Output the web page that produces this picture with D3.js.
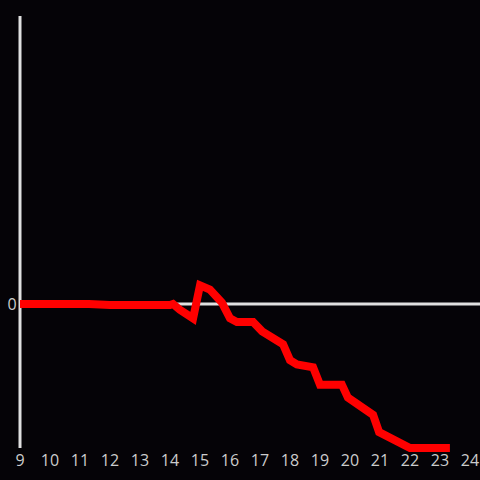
<!DOCTYPE html>
<html>
<head>
<meta charset="utf-8">
<script src="https://cdn.jsdelivr.net/npm/d3@7"></script>
<style>
  html, body { margin: 0; padding: 0; background: #050307; }
  svg { display: block; }
</style>
</head>
<body>
<script>
var hours = [9, 11.3, 12, 14, 14.1, 14.33, 14.77, 15, 15.33, 15.73, 16, 16.23, 16.77, 17.07, 17.77, 18, 18.23, 18.77, 19, 19.73, 19.93, 20.77, 20.97, 22, 23.33];
var values = [0, 0, -0.007, -0.007, 0, -0.04, -0.1, 0.13, 0.1, 0.01, -0.1, -0.125, -0.125, -0.19, -0.28, -0.39, -0.42, -0.44, -0.56, -0.56, -0.65, -0.77, -0.89, -1, -1];
var xTicks = [9, 10, 11, 12, 13, 14, 15, 16, 17, 18, 19, 20, 21, 22, 23, 24];
var yTicks = [0];

(function() {
  var width = 480;
  var height = 480;

  var svg = d3.select("body")
    .append("svg")
    .attr("width", width)
    .attr("height", height)

  svg.append("rect")
    .attr("width", width)
    .attr("height", height)
    .attr("fill", "#050307")

  var x = d3.scaleLinear().domain([9, 24]).range([20, 470])
  var y = d3.scaleLinear().domain([-1, 2]).range([448, 16])

  // zero line
  svg.append("line")
    .attr("x1", x(9)).attr("x2", width)
    .attr("y1", y(0)).attr("y2", y(0))
    .attr("stroke", "#e0e0e0")
    .attr("stroke-width", 3)

  // y axis line
  svg.append("line")
    .attr("x1", x(9)).attr("x2", x(9))
    .attr("y1", y(2)).attr("y2", y(-1))
    .attr("stroke", "#e0e0e0")
    .attr("stroke-width", 3)

  svg.selectAll(".xlab")
    .data(xTicks)
    .enter().append("text")
    .attr("class", "xlab")
    .attr("x", function(d) { return x(d) })
    .attr("y", 466)
    .attr("text-anchor", "middle")
    .attr("font-family", "Open Sans, sans-serif")
    .attr("font-size", 16)
    .attr("fill", "#cccccc")
    .text(function(d) { return d })

  svg.selectAll(".ylab")
    .data(yTicks)
    .enter().append("text")
    .attr("class", "ylab")
    .attr("x", 12)
    .attr("y", function(d) { return y(d) + 6 })
    .attr("text-anchor", "middle")
    .attr("font-family", "Open Sans, sans-serif")
    .attr("font-size", 16)
    .attr("fill", "#cccccc")
    .text(function(d) { return d })

  var line = d3.line()
    .x(function(d, i) { return x(hours[i]) })
    .y(function(d) { return y(d) })

  svg.append("path")
    .datum(values)
    .attr("d", line)
    .attr("fill", "none")
    .attr("stroke", "#ff0000")
    .attr("stroke-width", 8)
    .attr("stroke-linejoin", "miter")
})();
</script>
</body>
</html>
